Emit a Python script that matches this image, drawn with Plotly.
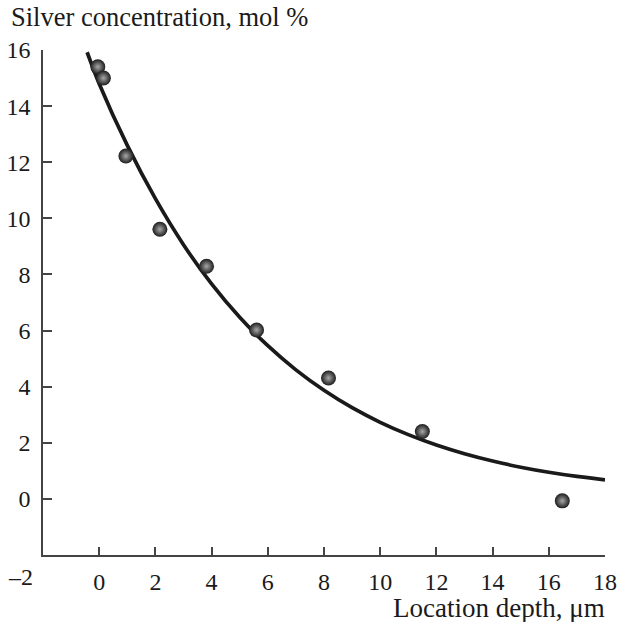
import plotly.graph_objects as go

# Measured points
depth = [-0.05, 0.15, 0.95, 2.16, 3.82, 5.6, 8.16, 11.5, 16.48]
conc = [15.4, 15.0, 12.22, 9.61, 8.29, 6.02, 4.31, 2.4, -0.07]

# Fitted curve
curve_x = [-0.43, 0, 1, 2, 3, 4, 5, 6, 7, 8, 9, 10, 11, 12, 13, 14, 15, 16, 17, 18]
curve_y = [15.92, 14.8, 12.6, 10.7, 9.06, 7.66, 6.47, 5.46, 4.6, 3.87, 3.25, 2.73,
           2.29, 1.92, 1.61, 1.35, 1.13, 0.95, 0.8, 0.68]

x_ticks = [0, 2, 4, 6, 8, 10, 12, 14, 16, 18]
y_ticks = [0, 2, 4, 6, 8, 10, 12, 14, 16]

FONT = "Liberation Serif"
AX = "#444444"

fig = go.Figure()
fig.add_trace(go.Scatter(x=curve_x, y=curve_y, mode="lines",
                         line=dict(color="#1a1a1a", width=3.7, shape="spline", smoothing=0.8),
                         hoverinfo="skip", showlegend=False))
fig.add_trace(go.Scatter(x=depth, y=conc, mode="markers",
                         marker=dict(size=15, color="#1c1c1c",
                                     gradient=dict(type="radial", color="#a8a8a8"),
                                     line=dict(width=0)),
                         showlegend=False))

fig.update_layout(
    width=618, height=622,
    margin=dict(l=43, r=13, t=50, b=67),
    paper_bgcolor="white", plot_bgcolor="white",
    font=dict(family=FONT, size=24, color="#1a1a1a"),
    xaxis=dict(range=[-2, 18], tickvals=x_ticks, ticktext=[str(v) for v in x_ticks],
               ticks="inside", ticklen=8, tickwidth=1.5, tickcolor=AX,
               showline=True, linecolor=AX, linewidth=1.5, showgrid=False,
               zeroline=False, ticklabelstandoff=4, mirror=False, automargin=False),
    yaxis=dict(range=[-2, 16], tickvals=y_ticks, ticktext=[str(v) for v in y_ticks],
               ticks="inside", ticklen=9, tickwidth=1.5, tickcolor=AX,
               showline=True, linecolor=AX, linewidth=1.5, showgrid=False,
               zeroline=False, ticklabelstandoff=6, automargin=False),
    annotations=[
        dict(text="–2", x=-2, y=0, xref="x", yref="paper", xanchor="center", yanchor="top",
             xshift=-23, yshift=-7, showarrow=False, font=dict(family=FONT, size=24)),
        dict(text="Silver concentration, mol %", x=0, y=1.0, xref="paper", yref="paper",
             xanchor="left", yanchor="middle", showarrow=False,
             font=dict(family=FONT, size=26.5), xshift=-34, yshift=33),
        dict(text="Location depth, μm", x=1.0, y=0, xref="paper", yref="paper",
             xanchor="right", yanchor="middle", showarrow=False,
             font=dict(family=FONT, size=27), xshift=2, yshift=-53),
    ],
)

fig.write_html("out.html")
